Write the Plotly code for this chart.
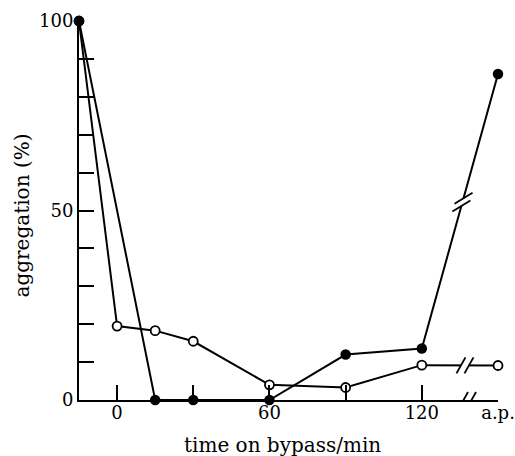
import math
import plotly.graph_objects as go

# data
t_filled = [-15, 15, 30, 60, 90, 120, 150]
v_filled = [100, 0, 0, 0, 12, 13.6, 86]
t_open = [-15, 0, 15, 30, 60, 90, 120, 150]
v_open = [100, 19.5, 18.3, 15.5, 4.0, 3.3, 9.2, 9.1]
x_tickvals = [0, 30, 60, 90, 120, 150]
x_ticktext = ["0", "", "60", "", "120", "a.p."]
y_tickvals = [0, 10, 20, 30, 40, 50, 60, 70, 80, 90, 100]
y_ticktext = ["0", "", "", "", "", "50", "", "", "", "", "100"]

W, H = 515, 456
L, R, T, B = 79, 17, 21, 56
XR = [-15, 150]
YR = [0, 100]
pxx = (W - L - R) / (XR[1] - XR[0])
pxy = (H - T - B) / (YR[1] - YR[0])

FONT = "DejaVu Serif"

fig = go.Figure()
fig.add_trace(go.Scatter(x=t_open, y=v_open, mode="lines+markers",
                         line=dict(color="black", width=2),
                         marker=dict(symbol="circle", size=9, color="white",
                                     line=dict(color="black", width=1.8)),
                         cliponaxis=False, showlegend=False))
fig.add_trace(go.Scatter(x=t_filled, y=v_filled, mode="lines+markers",
                         line=dict(color="black", width=2),
                         marker=dict(symbol="circle", size=10.5, color="black"),
                         cliponaxis=False, showlegend=False))

shapes = []


def add_break(cx, cy, ux, uy, sx, sy, gap=4.0, gapw=5):
    def to_data(px, py):
        return px / pxx, -py / pxy
    gx, gy = to_data(ux * gap, uy * gap)
    shapes.append(dict(type="line", xref="x", yref="y", layer="above",
                       x0=cx - gx, y0=cy - gy, x1=cx + gx, y1=cy + gy,
                       line=dict(color="white", width=gapw)))
    for s in (-1, 1):
        ox, oy = to_data(ux * gap * s, uy * gap * s)
        hx, hy = to_data(sx, sy)
        shapes.append(dict(type="line", xref="x", yref="y", layer="above",
                           x0=cx + ox - hx, y0=cy + oy - hy,
                           x1=cx + ox + hx, y1=cy + oy + hy,
                           line=dict(color="black", width=1.8)))


add_break(138, 0, 1, 0, 4.5, -8)
add_break(137, 9.15, 1, 0, 4.5, -8)
dxp = (150 - 120) * pxx
dyp = -(86 - 13.6) * pxy
n = math.hypot(dxp, dyp)
add_break(136, 13.6 + (86 - 13.6) * 16 / 30, dxp / n, dyp / n, 9, -5.5)

fig.update_layout(
    width=W, height=H,
    margin=dict(l=L, r=R, t=T, b=B, autoexpand=False),
    paper_bgcolor="white", plot_bgcolor="white",
    font=dict(family=FONT, size=18, color="black"),
    shapes=shapes,
    xaxis=dict(range=XR, showgrid=False, zeroline=False, showline=True,
               automargin=False, ticklabelstandoff=-5,
               linecolor="black", linewidth=2, ticks="inside", ticklen=15,
               tickwidth=2, tickcolor="black", tickvals=x_tickvals,
               ticktext=x_ticktext, tickfont=dict(family=FONT, size=18)),
    yaxis=dict(range=YR, showgrid=False, zeroline=False, showline=True,
               automargin=False,
               linecolor="black", linewidth=2, ticks="inside", ticklen=15,
               tickwidth=2, tickcolor="black", tickvals=y_tickvals,
               ticktext=y_ticktext, tickfont=dict(family=FONT, size=18)),
    annotations=[
        dict(text="time on bypass/min", xref="paper", yref="paper",
             x=0.485, y=-0.119, xanchor="center", yanchor="middle",
             showarrow=False, font=dict(family=FONT, size=20)),
        dict(text="aggregation (%)", xref="paper", yref="paper",
             x=-0.135, y=0.488, xanchor="center", yanchor="middle",
             textangle=-90, showarrow=False, font=dict(family=FONT, size=20)),
    ],
)

fig.write_html("out.html",
               config={"displayModeBar": False},
               post_script="document.body.style.margin='0';"
                           "document.body.style.overflow='hidden';")
